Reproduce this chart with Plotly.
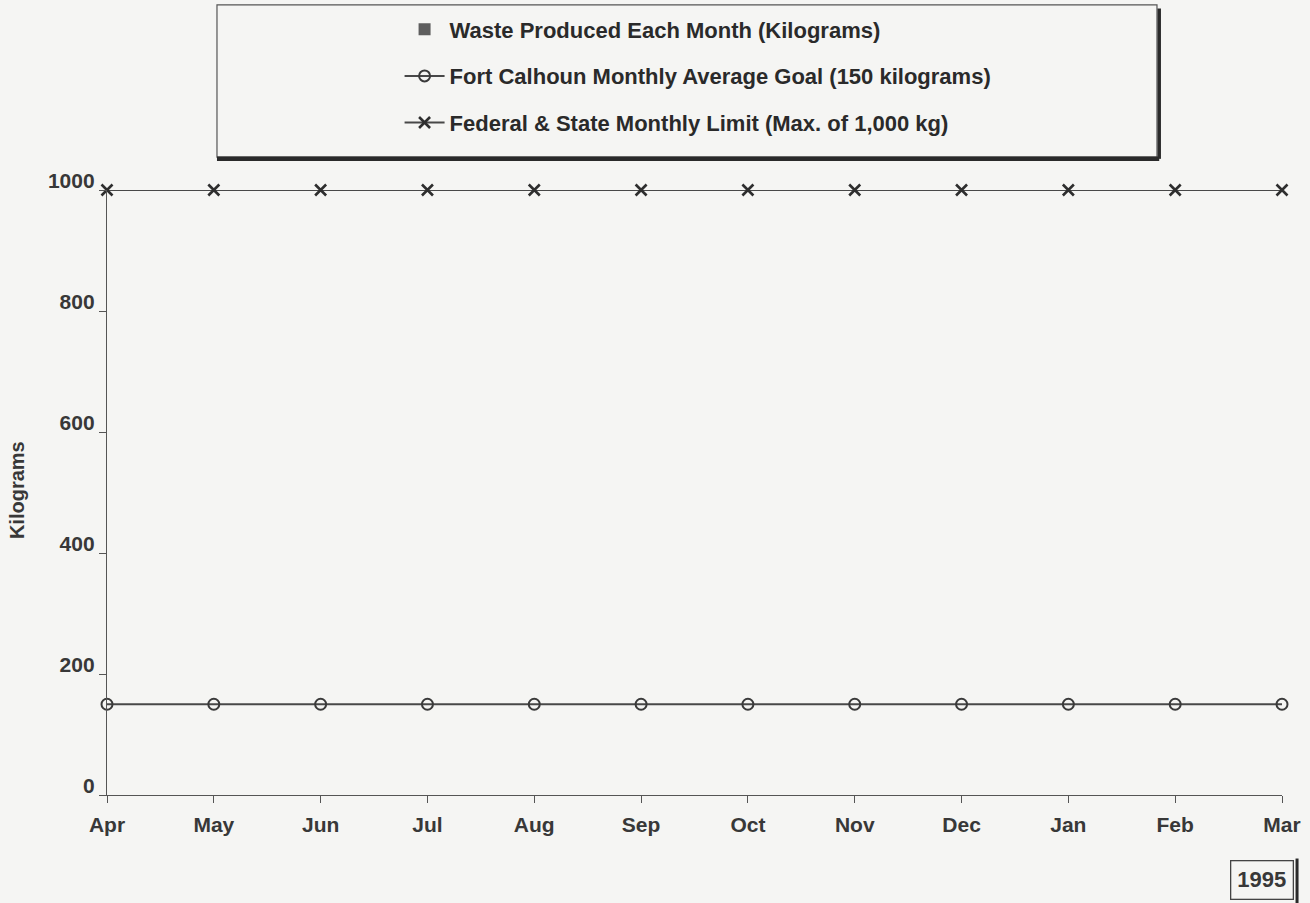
import plotly.graph_objects as go

months = ["Apr", "May", "Jun", "Jul", "Aug", "Sep", "Oct", "Nov", "Dec", "Jan", "Feb", "Mar"]
waste_produced = [0, 0, 0, 0, 0, 0, 0, 0, 0, 0, 0, 0]
goal = [150] * 12
limit = [1000] * 12
y_ticks = [0, 200, 400, 600, 800, 1000]

FONT = "Liberation Sans, Arial, sans-serif"
INK = "#383838"

fig = go.Figure()
fig.add_trace(go.Bar(
    x=months, y=waste_produced, name="Waste Produced Each Month (Kilograms)",
    marker=dict(color="#5e5e5e", line=dict(color="#333", width=0)),
    legendgroup="a",
))
fig.add_trace(go.Scatter(
    x=months, y=goal, mode="lines+markers", name="Fort Calhoun Monthly Average Goal (150 kilograms)",
    line=dict(color="#484848", width=2),
    marker=dict(symbol="circle-open", size=11, color="#3a3a3a", line=dict(width=2)),
    cliponaxis=False, legendgroup="b",
))
fig.add_trace(go.Scatter(
    x=months, y=limit, mode="lines+markers", name="Federal & State Monthly Limit (Max. of 1,000 kg)",
    line=dict(color="#484848", width=2),
    marker=dict(symbol="x-thin-open", size=11, color="#2e2e2e", line=dict(width=2.6, color="#2e2e2e")),
    cliponaxis=False, legendgroup="c",
))

# legend frame with shadow
fig.add_shape(type="rect", xref="paper", yref="paper", x0=0.0936, x1=0.8936, y0=1.0545, y1=1.306,
              line=dict(color="#555", width=1.2), fillcolor="rgba(0,0,0,0)", layer="below")
fig.add_shape(type="line", xref="paper", yref="paper", x0=0.0936, x1=0.8955, y0=1.0515, y1=1.0515,
              line=dict(color="#2a2a2a", width=4.5))
fig.add_shape(type="line", xref="paper", yref="paper", x0=0.8955, x1=0.8955, y0=1.0515, y1=1.300,
              line=dict(color="#2a2a2a", width=3.5))

# y-axis title
fig.add_annotation(text="Kilograms", xref="paper", yref="paper", x=-0.0766, y=0.504,
                   xanchor="center", yanchor="middle", textangle=-90, showarrow=False,
                   font=dict(family=FONT, size=20, color=INK, weight="bold"))

# year box
fig.add_annotation(text="1995", xref="paper", yref="paper", x=1.0102, y=-0.107,
                   xanchor="right", yanchor="top", showarrow=False,
                   font=dict(family=FONT, size=22, color=INK, weight="bold"),
                   bordercolor="#444", borderwidth=1.3, borderpad=6, bgcolor="rgba(0,0,0,0)")
fig.add_shape(type="line", xref="paper", yref="paper", x0=1.0128, x1=1.0128, y0=-0.105, y1=-0.185,
              line=dict(color="#2a2a2a", width=3))

fig.update_layout(
    width=1310, height=903,
    margin=dict(l=107, r=28, t=190, b=108, autoexpand=False),
    paper_bgcolor="#f5f5f3", plot_bgcolor="#f5f5f3",
    font=dict(family=FONT, size=16, color=INK),
    showlegend=True,
    legend=dict(x=0.249, y=1.30, xanchor="left", yanchor="top",
                bgcolor="rgba(0,0,0,0)", borderwidth=0,
                font=dict(family=FONT, size=22, color="#2a2a2a", weight="bold"),
                traceorder="grouped", tracegroupgap=15, itemwidth=40),
    bargap=0.5,
)
fig.update_xaxes(
    type="category", range=[0, 11], showgrid=False, zeroline=False,
    showline=True, linecolor="#555", linewidth=1.3,
    ticks="outside", ticklen=7, tickcolor="#555", tickwidth=1.3,
    ticklabelstandoff=4,
    tickfont=dict(family=FONT, size=21, color=INK, weight="bold"),
)
fig.update_yaxes(
    range=[0, 1000], tickvals=y_ticks, showgrid=False, zeroline=False,
    showline=True, linecolor="#555", linewidth=1.3,
    ticks="outside", ticklen=7, tickcolor="#555", tickwidth=1.3,
    ticklabelshift=-9,
    tickfont=dict(family=FONT, size=21, color=INK, weight="bold"),
)

fig.write_html("out.html", config={"displayModeBar": False},
               post_script="document.body.style.margin='0';")
